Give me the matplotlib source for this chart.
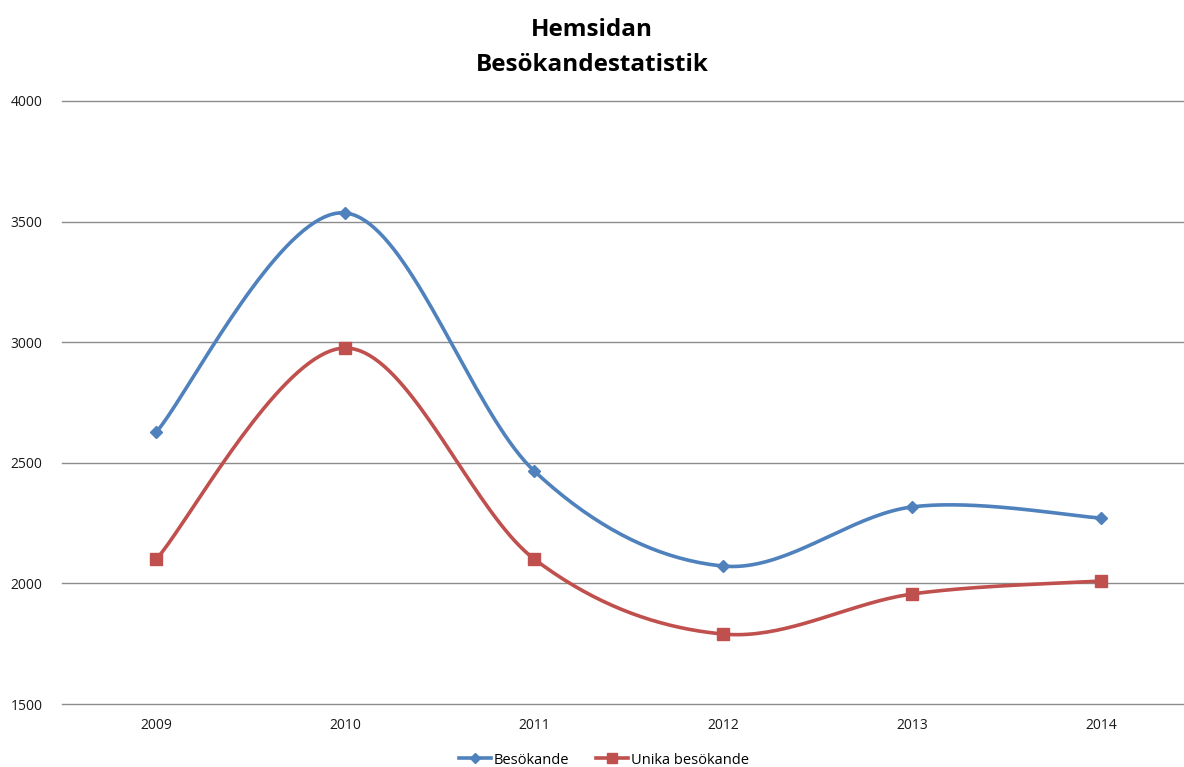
import numpy as np
import matplotlib
matplotlib.use("Agg")
import matplotlib.pyplot as plt
from matplotlib.lines import Line2D

years = ["2009", "2010", "2011", "2012", "2013", "2014"]
besokande = [2628, 3536, 2466, 2072, 2317, 2271]
unika = [2101, 2976, 2101, 1790, 1956, 2010]

BLUE = "#4F81BD"
RED = "#C0504D"

plt.rcParams['font.family'] = ['Open Sans', 'DejaVu Sans']


def smooth(x, y, n=40):
    # Excel-style smoothed line: cubic Bezier between points (Catmull-Rom)
    x = np.asarray(x, float)
    y = np.asarray(y, float)
    px = np.concatenate([[x[0]], x, [x[-1]]])
    py = np.concatenate([[y[0]], y, [y[-1]]])
    xs, ys = [], []
    t = np.linspace(0, 1, n)
    for i in range(1, len(px) - 2):
        p0 = np.array([px[i], py[i]])
        p3 = np.array([px[i + 1], py[i + 1]])
        c1 = p0 + (np.array([px[i + 1], py[i + 1]]) - np.array([px[i - 1], py[i - 1]])) / 6
        c2 = p3 - (np.array([px[i + 2], py[i + 2]]) - np.array([px[i], py[i]])) / 6
        b = ((1 - t) ** 3)[:, None] * p0 + (3 * (1 - t) ** 2 * t)[:, None] * c1 \
            + (3 * (1 - t) * t ** 2)[:, None] * c2 + (t ** 3)[:, None] * p3
        xs.extend(b[:, 0])
        ys.extend(b[:, 1])
    return xs, ys


fig = plt.figure(figsize=(11.84, 7.67), dpi=100)
ax = fig.add_axes([62 / 1184, 1 - 704 / 767, 1 - 62 / 1184, (704 - 101) / 767])

x = np.arange(len(years))
for vals, col, mk, ms in [(besokande, BLUE, "D", 6), (unika, RED, "s", 8)]:
    sx, sy = smooth(x, vals)
    ax.plot(sx, sy, color=col, lw=2.6, solid_capstyle="round", zorder=3)
    ax.plot(x, vals, linestyle="none", marker=mk, ms=ms, color=col, zorder=4)

ax.set_xlim(-0.5, 5.44)
ax.set_ylim(1500, 4000)
ax.set_yticks([1500, 2000, 2500, 3000, 3500, 4000])
ax.set_xticks(x)
ax.set_xticklabels(years)
ax.yaxis.grid(True, color="#8C8C8C", lw=1)
ax.set_axisbelow(True)
for gl in ax.get_ygridlines():
    gl.set_clip_on(False)
for s in ax.spines.values():
    s.set_visible(False)
ax.tick_params(length=0, labelsize=10, colors="#1a1a1a")
ax.tick_params(axis="y", pad=14)
ax.tick_params(axis="x", pad=10)

fig.text(0.5, 1 - 30 / 767, "Hemsidan", ha="center", va="center",
         fontsize=17.5, fontweight="bold")
fig.text(0.5, 1 - 65 / 767, "Besökandestatistik", ha="center", va="center",
         fontsize=17.5, fontweight="bold")

handles = [Line2D([], [], color=BLUE, lw=2.6, marker="D", ms=5),
           Line2D([], [], color=RED, lw=2.6, marker="s", ms=7)]
fig.legend(handles, ["Besökande", "Unika besökande"], loc="center",
           bbox_to_anchor=(0.51, 1 - 760 / 767), ncol=2, frameon=False,
           fontsize=10.5, handlelength=2.2, columnspacing=1.8, handletextpad=0.2)

fig.savefig("out.png", dpi=100)
